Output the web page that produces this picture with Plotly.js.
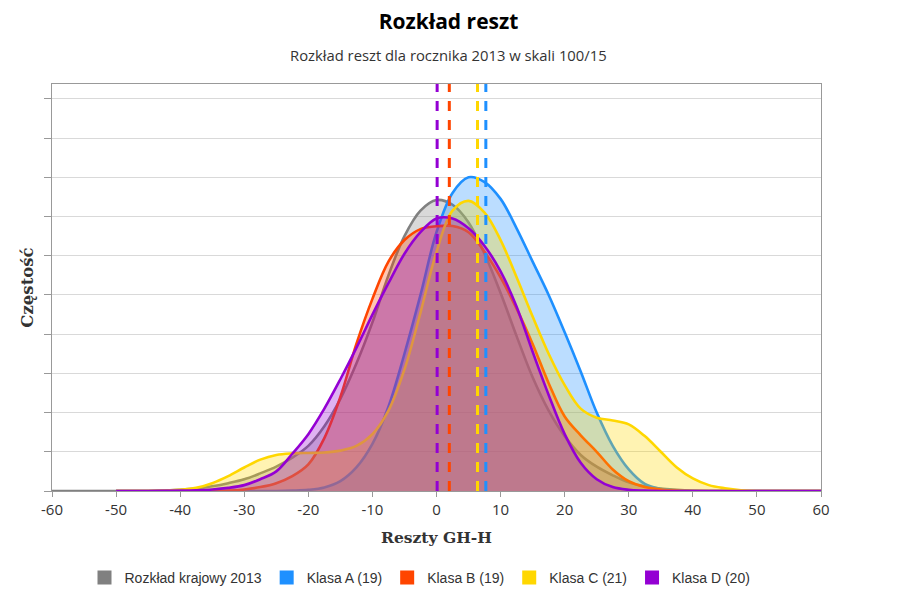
<!DOCTYPE html>
<html><head><meta charset="utf-8">
<script src="https://cdn.plot.ly/plotly-3.0.1.min.js"></script>
<style>html,body{margin:0;padding:0;background:#fff;}#chart{width:897px;height:609px;}</style>
</head><body><div id="chart"></div>
<script>
// x grid (Reszty GH-H)
const xs = [-60,-55,-50,-45,-40,-37.5,-35,-32.5,-30,-27.5,-25,-22.5,-20,-17.5,-15,-12.5,-10,-7.5,-5,-2.5,0,2.5,5,7.5,10,12.5,15,17.5,20,22.5,25,27.5,30,32.5,35,37.5,40,42.5,45,47.5,50,55,60];
const seriesNames = ['Rozkład krajowy 2013','Klasa A (19)','Klasa B (19)','Klasa C (21)','Klasa D (20)'];
const national = [0,0,0,0,0.03,0.06,0.12,0.2,0.3,0.45,0.62,0.85,1.15,1.65,2.35,3.25,4.3,5.5,6.5,7.15,7.42,7.3,6.85,6.05,5.05,3.95,2.9,2.05,1.4,0.92,0.62,0.4,0.22,0.12,0.06,0.03,0.01,0,0,0,0,0,0];
const klasaA = [null,null,0,0,0,0,0,0,0,0,0,0.01,0.03,0.09,0.25,0.6,1.2,2.15,3.5,5.0,6.6,7.6,8.0,7.88,7.45,6.7,5.85,5.0,4.05,3.05,2.0,1.15,0.55,0.18,0.05,0.01,0,0,0,0,0,0,0];
const klasaB = [null,null,0,0,0,0,0,0.01,0.04,0.1,0.2,0.38,0.68,1.35,2.4,3.75,4.9,5.85,6.4,6.68,6.75,6.76,6.6,6.1,5.45,4.65,3.75,2.75,1.9,1.42,1.0,0.55,0.25,0.1,0.04,0.01,0,0,0,0,0,0,0];
const klasaC = [null,null,0,0,0.03,0.08,0.2,0.38,0.6,0.8,0.92,0.96,0.97,0.98,1.03,1.15,1.45,2.05,3.1,4.55,6.1,7.15,7.4,7.1,6.4,5.45,4.45,3.5,2.7,2.1,1.87,1.8,1.7,1.4,1.0,0.6,0.32,0.15,0.07,0.02,0,0,0];
const klasaD = [null,null,0,0,0.01,0.02,0.04,0.08,0.15,0.3,0.5,0.95,1.45,2.1,2.85,3.65,4.5,5.3,6.05,6.6,6.95,6.95,6.7,6.25,5.6,4.7,3.55,2.45,1.45,0.72,0.3,0.1,0.03,0.01,0,0,0,0,0,0,0,0,0];
// class means (dashed lines)
const meanNames = ['Klasa A (19)','Klasa B (19)','Klasa C (21)','Klasa D (20)'];
const means = [7.7, 2.0, 6.4, 0.1];
const xTicks = [-60,-50,-40,-30,-20,-10,0,10,20,30,40,50,60];

const colors = ['#808080','#1e90ff','#ff4500','#ffd700','#9400d3'];
const fills = ['rgba(128,128,128,0.3)','rgba(30,144,255,0.3)','rgba(255,69,0,0.3)','rgba(255,215,0,0.3)','rgba(148,0,211,0.3)'];
const ys = [national, klasaA, klasaB, klasaC, klasaD];

const traces = [];
ys.forEach((y,i)=>{
  traces.push({x: xs, y: y, type:'scatter', mode:'lines', name: seriesNames[i],
    line:{color:colors[i], width:2.6, shape:'spline', smoothing:1},
    fill:'tozeroy', fillcolor: fills[i], showlegend:false, hoverinfo:'x+y'});
});
seriesNames.forEach((n,i)=>{
  traces.push({x:[null], y:[null], type:'scatter', mode:'markers', name:n,
    marker:{symbol:'square', size:14, color:colors[i]}, showlegend:true});
});
const meanColors = [colors[1], colors[2], colors[3], colors[4]];
const shapes = means.map((m,i)=>({type:'line', xref:'x', yref:'paper', x0:m, x1:m, y0:0, y1:1,
  line:{color:meanColors[i], width:3, dash:'10px,9px'}}));

const layout = {
  width:897, height:609,
  margin:{l:52, r:76, t:84, b:118},
  paper_bgcolor:'#fff', plot_bgcolor:'#fff',
  font:{family:'Open Sans, sans-serif', color:'#333'},
  title:{text:'<b>Rozkład reszt</b>', font:{family:'Open Sans, sans-serif', size:21, color:'#000'},
    xref:'container', x:0.5, xanchor:'center', yref:'container', y:1-22/609, yanchor:'middle'},
  annotations:[{text:'Rozkład reszt dla rocznika 2013 w skali 100/15', xref:'paper', yref:'paper',
    x:(448.5-52)/769, y:1+(84-55)/407, xanchor:'center', yanchor:'middle', showarrow:false,
    font:{family:'Open Sans, sans-serif', size:14.8, color:'#333'}}],
  xaxis:{range:[-60,60], tickvals:xTicks, ticktext:xTicks.map(String), showgrid:false, zeroline:false,
    showline:true, linecolor:'#999', linewidth:1, mirror:true, ticks:'outside', ticklen:5, tickcolor:'#999',
    tickfont:{family:'Open Sans, sans-serif', size:15, color:'#333'},
    title:{text:'<b>Reszty GH-H</b>', font:{family:'DejaVu Serif, serif', size:15.5, color:'#333'}, standoff:14}},
  yaxis:{range:[0,10.38], dtick:1, tick0:0, showgrid:true, gridcolor:'#d9d9d9', zeroline:false,
    showline:true, linecolor:'#999', linewidth:1, mirror:true, ticks:'outside', ticklen:7, tickcolor:'#999',
    showticklabels:false,
    title:{text:'<b>Częstość</b>', font:{family:'DejaVu Serif, serif', size:16.5, color:'#333'}, standoff:6}},
  shapes: shapes,
  showlegend:true,
  legend:{orientation:'h', x:(420-52)/769, xanchor:'center', y:-87/407, yanchor:'middle',
    font:{family:'Liberation Sans, Arial, sans-serif', size:14, color:'#333'}, itemwidth:30, traceorder:'normal'}
};
Plotly.newPlot('chart', traces, layout, {displayModeBar:false, staticPlot:true});
</script></body></html>
